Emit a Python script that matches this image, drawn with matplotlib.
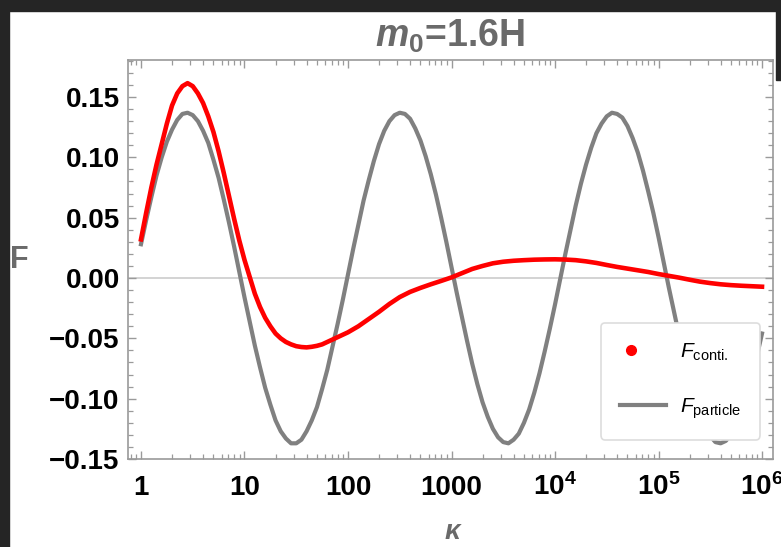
import matplotlib
matplotlib.use("Agg")
import matplotlib.pyplot as plt
import numpy as np
from matplotlib.lines import Line2D
from matplotlib.patches import Rectangle
from matplotlib.legend_handler import HandlerLine2D

plt.rcParams['font.family'] = ['Liberation Sans', 'DejaVu Sans']
plt.rcParams['mathtext.fontset'] = 'custom'
plt.rcParams['mathtext.rm'] = 'Liberation Sans'
plt.rcParams['mathtext.it'] = 'Liberation Sans:italic'
plt.rcParams['mathtext.bf'] = 'Liberation Sans:bold'
plt.rcParams['mathtext.bfit'] = 'Liberation Sans:italic:bold'

# F_particle (gray line), log10(kappa) from 0 to 6 in steps of 0.05
log_k_particle = np.linspace(0, 6, 121)
f_particle = [0.028, 0.048, 0.067, 0.085, 0.100, 0.113, 0.123, 0.131, 0.136, 0.137,
              0.135, 0.130, 0.122, 0.112, 0.098, 0.083, 0.065, 0.046, 0.026, 0.005,
              -0.016, -0.036, -0.056, -0.074, -0.091, -0.105, -0.118, -0.127, -0.133, -0.137,
              -0.137, -0.134, -0.127, -0.118, -0.107, -0.092, -0.076, -0.057, -0.038, -0.018,
              0.003, 0.024, 0.044, 0.064, 0.081, 0.097, 0.111, 0.122, 0.130, 0.135,
              0.137, 0.136, 0.132, 0.124, 0.114, 0.101, 0.086, 0.069, 0.050, 0.030,
              0.009, -0.012, -0.032, -0.052, -0.071, -0.088, -0.103, -0.115, -0.125, -0.132,
              -0.136, -0.137, -0.134, -0.129, -0.120, -0.109, -0.095, -0.079, -0.061, -0.042,
              -0.022, -0.001, 0.020, 0.040, 0.060, 0.078, 0.094, 0.108, 0.120, 0.128,
              0.134, 0.137, 0.136, 0.133, 0.126, 0.116, 0.104, 0.089, 0.072, 0.054,
              0.034, 0.013, -0.008, -0.028, -0.048, -0.067, -0.085, -0.100, -0.113, -0.123,
              -0.131, -0.136, -0.137, -0.135, -0.130, -0.122, -0.112, -0.098, -0.082, -0.065,
              -0.046]

# F_conti. (red dots): steps of 0.05 up to log10(kappa)=2, then 0.1
log_k_conti = np.concatenate([np.linspace(0, 2, 41), np.linspace(2.1, 6, 40)])
f_conti = [0.032, 0.054, 0.075, 0.094, 0.111, 0.128, 0.143, 0.153, 0.159, 0.1615,
           0.159, 0.153, 0.145, 0.134, 0.121, 0.105, 0.087, 0.068, 0.049, 0.031,
           0.015, 0.001, -0.013, -0.024, -0.033, -0.040, -0.046, -0.050, -0.053, -0.055,
           -0.0565, -0.0572, -0.0575, -0.057, -0.0562, -0.055, -0.053, -0.051, -0.049, -0.047,
           -0.045,
           -0.040, -0.034, -0.028, -0.0215, -0.0158, -0.0115, -0.0082, -0.0052, -0.0024, 0.0005,
           0.004, 0.0075, 0.010, 0.0122, 0.0135, 0.0143, 0.0148, 0.0152, 0.0154, 0.0155,
           0.0153, 0.0148, 0.0138, 0.0125, 0.0108, 0.0092, 0.0078, 0.0064, 0.0050, 0.0033,
           0.0018, 0.0003, -0.0014, -0.0030, -0.0042, -0.0052, -0.0059, -0.0064, -0.0068, -0.0072]

x_ticks = [1, 10, 100, 1000, 1e4, 1e5, 1e6]
x_labels = ['1', '10', '100', '1000', r'$\mathbf{10}^{\mathbf{4}}$',
            r'$\mathbf{10}^{\mathbf{5}}$', r'$\mathbf{10}^{\mathbf{6}}$']
y_ticks = [-0.15, -0.10, -0.05, 0.00, 0.05, 0.10, 0.15]

frame_gray = '#9a9a9a'
label_gray = '#6a6a6a'


class LeftMarker(HandlerLine2D):
    # put the single legend dot near the left of the handle box
    def get_xdata(self, legend, xdescent, ydescent, width, height, fontsize):
        x = -xdescent + width * 0.25
        return [x, x], [x]


fig = plt.figure(figsize=(7.81, 5.47), dpi=100)
dark = '#252525'
fig.patches.append(Rectangle((0, 0), 9 / 781, 1, transform=fig.transFigure,
                             color=dark, zorder=-5))
fig.patches.append(Rectangle((0, 1 - 11 / 547), 1, 11 / 547, transform=fig.transFigure,
                             color=dark, zorder=-5))
fig.patches.append(Rectangle((776 / 781, 1 - 80 / 547), 5 / 781, 80 / 547,
                             transform=fig.transFigure, color=dark, zorder=-5))

ax = fig.add_axes([128 / 781, 1 - 459 / 547, 645 / 781, 399 / 547])
ax.set_xscale('log')
ax.set_xlim(0.749, 1.277e6)
ax.set_ylim(-0.15, 0.1807)

ax.axhline(0, color='#cccccc', lw=1.2, zorder=1)
ax.plot(10 ** log_k_particle, f_particle, color='#808080', lw=3.0, zorder=2)
ax.plot(10 ** log_k_conti, f_conti, color='red', lw=3.3, zorder=3)

for sp in ax.spines.values():
    sp.set_color(frame_gray)
    sp.set_linewidth(1.2)

ax.set_xticks(x_ticks)
ax.set_xticklabels(x_labels)
ax.set_yticks(y_ticks)
ax.set_yticklabels(['\u2212%.2f' % abs(v) if v < 0 else '%.2f' % v for v in y_ticks])
ax.yaxis.set_minor_locator(matplotlib.ticker.MultipleLocator(0.01))
ax.xaxis.set_minor_locator(matplotlib.ticker.LogLocator(base=10, subs=np.arange(2, 10)))
ax.xaxis.set_minor_formatter(matplotlib.ticker.NullFormatter())

ax.tick_params(which='both', direction='in', top=True, right=True, color=frame_gray)
ax.tick_params(which='major', length=6, width=1.0)
ax.tick_params(which='minor', length=3.5, width=0.9)
ax.tick_params(axis='y', which='major', labelsize=20, pad=6)
ax.tick_params(axis='x', which='major', labelsize=20, pad=26)
for lab in ax.get_xticklabels() + ax.get_yticklabels():
    lab.set_fontweight('bold')
for lab in ax.get_xticklabels():
    lab.set_verticalalignment('baseline')

fig.text(450 / 781, 1 - 36 / 547, r'$\mathbfit{m}_{\mathbf{0}}$=1.6H', color=label_gray,
         fontsize=27, fontweight='bold', ha='center', va='center')
fig.text(19 / 781, 1 - 260 / 547, 'F', color=label_gray, fontsize=22, fontweight='bold',
         ha='center', va='center')
fig.text(452 / 781, 1 - 532 / 547, '\u03ba', color=label_gray, fontsize=20,
         fontweight='bold', fontstyle='italic', ha='center', va='center')

dot = Line2D([], [], color='red', marker='o', ms=7, ls='none')
bar = Line2D([], [], color='#808080', lw=3.0)
leg = ax.legend([dot, bar], [r'$F_{\mathrm{conti.}}$', r'$F_{\mathrm{particle}}$'],
                handler_map={dot: LeftMarker(numpoints=1)},
                loc='upper left', bbox_to_anchor=(601 / 781, 1 - 323 / 547),
                bbox_transform=fig.transFigure, borderaxespad=0, fontsize=15,
                frameon=True, fancybox=True, framealpha=1, edgecolor='#dddddd',
                labelspacing=1.6, handlelength=2.2, handletextpad=0.7,
                borderpad=0.9)
leg.get_frame().set_linewidth(1.2)
leg.set_zorder(5)

fig.savefig('out.png', dpi=100)
